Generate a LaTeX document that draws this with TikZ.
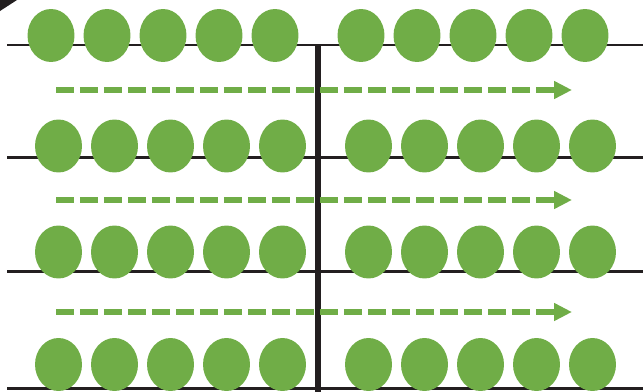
\documentclass[tikz,border=0pt]{standalone}
\usepackage{tikz}
\usetikzlibrary{shapes.geometric}
\usetikzlibrary{arrows.meta}
\definecolor{beadgreen}{HTML}{70AD47}
\definecolor{railblack}{HTML}{231F20}
\begin{document}
\begin{tikzpicture}[x=0.02cm, y=-0.02cm,
    bead/.style={ellipse, fill=beadgreen, draw=none, minimum width=0.94cm, minimum height=1.06cm, inner sep=0pt},
    rail/.style={draw=railblack, line width=0.06cm},
    post/.style={draw=railblack, line width=0.12cm},
    flow/.style={draw=beadgreen, line width=0.11cm, dash pattern=on 0.36cm off 0.12cm,
      -{Triangle[length=0.36cm, width=0.34cm]}}]
  \useasboundingbox (0,0) rectangle (643,392);

  \fill[railblack] (0,0) -- (17,0) -- (0,11) -- cycle;

  % horizontal rails
  \foreach \r/\ly in {1/45, 2/157, 3/271, 4/388} {
    \coordinate (w\r) at (7,\ly);
    \coordinate (e\r) at (643,\ly);
    \draw[rail] (w\r) -- (e\r);
  }

  % middle post
  \coordinate (mtop) at (318,45);
  \coordinate (mbot) at (318,392);
  \draw[post] (mtop) -- (mbot);

  % dashed arrows
  \foreach \r/\ay in {1/90, 2/200, 3/312} {
    \coordinate (s\r) at (56,\ay);
    \coordinate (t\r) at (572,\ay);
    \draw[flow] (s\r) -- (t\r);
  }

  % beads
  \foreach \r/\by/\xs in {1/35.5/51, 2/146/58.5, 3/252/58.5, 4/364.5/58.5} {
    \foreach \i in {0,...,4} {
      \node[bead] (b\r l\i) at ({\xs+56*\i},\by) {};
      \node[bead] (b\r r\i) at ({\xs+310+56*\i},\by) {};
    }
  }
\end{tikzpicture}
\end{document}
